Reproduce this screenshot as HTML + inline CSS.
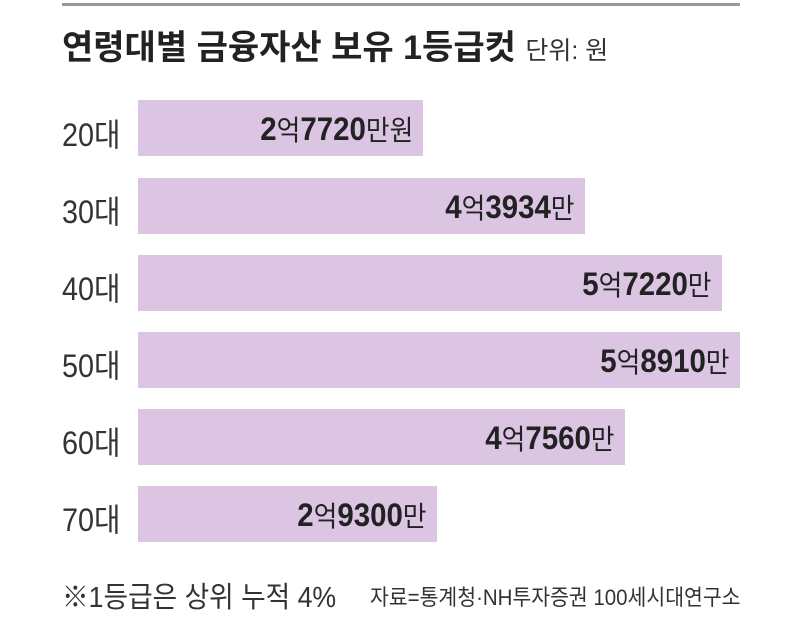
<!DOCTYPE html>
<html><head><meta charset="utf-8"><style>
body{margin:0;width:800px;height:624px;background:#fff;position:relative;overflow:hidden;font-family:"Liberation Sans","Noto Sans CJK KR",sans-serif;color:#222}
.a{position:absolute;white-space:nowrap}
.bar{position:absolute;left:138px;height:56px;background:#dcc5e3}
.lab{position:absolute;left:62px;font-size:32px;color:#333;transform:scaleX(0.9);transform-origin:left}
.val{position:absolute;font-size:32px;font-weight:bold;color:#222;text-align:right;transform:scaleX(0.92);transform-origin:right}
.val span{font-weight:normal;font-size:28px}
</style></head><body>
<div class="a" style="left:62px;top:3px;width:678px;height:3px;background:#999"></div>
<div class="a" style="left:62px;top:20px;font-size:34px;font-weight:bold;color:#222;letter-spacing:0px">연령대별 금융자산 보유 1등급컷 <span style="font-size:25px;font-weight:normal;color:#333">단위: 원</span></div>

<div class="bar" style="top:100px;width:285px"></div><div class="lab" style="top:110px">20대</div><div class="val" style="top:109px;right:387px">2<span>억</span>7720<span>만원</span></div>
<div class="bar" style="top:178px;width:447px"></div><div class="lab" style="top:187px">30대</div><div class="val" style="top:187px;right:225px">4<span>억</span>3934<span>만</span></div>
<div class="bar" style="top:255px;width:584px"></div><div class="lab" style="top:264px">40대</div><div class="val" style="top:264px;right:88px">5<span>억</span>7220<span>만</span></div>
<div class="bar" style="top:332px;width:602px"></div><div class="lab" style="top:341px">50대</div><div class="val" style="top:341px;right:70px">5<span>억</span>8910<span>만</span></div>
<div class="bar" style="top:409px;width:487px"></div><div class="lab" style="top:418px">60대</div><div class="val" style="top:418px;right:185px">4<span>억</span>7560<span>만</span></div>
<div class="bar" style="top:486px;width:299px"></div><div class="lab" style="top:495px">70대</div><div class="val" style="top:495px;right:373px">2<span>억</span>9300<span>만</span></div>

<div class="a" style="left:62px;top:574px;font-size:29px;color:#333;transform:scaleX(0.92);transform-origin:left">※1등급은 상위 누적 4%</div>
<div class="a" style="left:370px;top:580px;font-size:22px;color:#333;transform:scaleX(0.93);transform-origin:left">자료=통계청·NH투자증권 100세시대연구소</div>
</body></html>
